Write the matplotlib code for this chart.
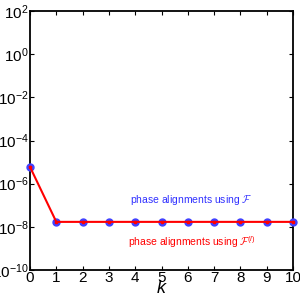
import numpy as np
import matplotlib
matplotlib.use("Agg")
import matplotlib.pyplot as plt

k = np.arange(0, 11)
err_F = [6e-6, 1.7e-8, 1.7e-8, 1.7e-8, 1.7e-8, 1.7e-8, 1.7e-8, 1.7e-8, 1.7e-8, 1.7e-8, 1.7e-8]
err_Fl = [6e-6, 1.7e-8, 1.7e-8, 1.7e-8, 1.7e-8, 1.7e-8, 1.7e-8, 1.7e-8, 1.7e-8, 1.7e-8, 1.7e-8]
yticks = [1e-10, 1e-8, 1e-6, 1e-4, 1e-2, 1e0, 1e2]

plt.rcParams['font.family'] = ['Liberation Sans', 'DejaVu Sans']
plt.rcParams['mathtext.fontset'] = 'custom'
plt.rcParams['mathtext.rm'] = 'Liberation Sans'
plt.rcParams['mathtext.it'] = 'Liberation Sans:italic'
plt.rcParams['mathtext.cal'] = 'cmsy10'

fig = plt.figure(figsize=(3, 3), dpi=100)
ax = fig.add_axes([0.1, 0.1, 0.877, 0.863])

ax.semilogy(k, err_F, 'o', color='#4040ff', markersize=5, clip_on=False, zorder=3)
ax.semilogy(k, err_Fl, '-', color='#ff0000', linewidth=1.5, marker='s',
            markersize=2, clip_on=False, zorder=4)

ax.set_xlim(0, 10)
ax.set_ylim(1e-10, 1e2)
ax.set_xticks(k)
ax.set_yticks(yticks)
ax.yaxis.set_minor_locator(matplotlib.ticker.NullLocator())
ax.tick_params(direction='in', which='both', top=True, right=True,
               labelsize=11, length=3, width=0.8, pad=1)
for s in ax.spines.values():
    s.set_linewidth(1.3)

ax.text(0.612, 0.27, r'phase alignments using $\mathcal{F}$', color='#3030ff',
        fontsize=7.5, transform=ax.transAxes, ha='center', va='center')
ax.text(0.616, 0.108, r'phase alignments using $\mathcal{F}^{(l)}$', color='#ff0000',
        fontsize=7.5, transform=ax.transAxes, ha='center', va='center')

ax.set_xlabel(r'$k$', fontsize=13, labelpad=-4)

fig.savefig('out.png', dpi=100)
